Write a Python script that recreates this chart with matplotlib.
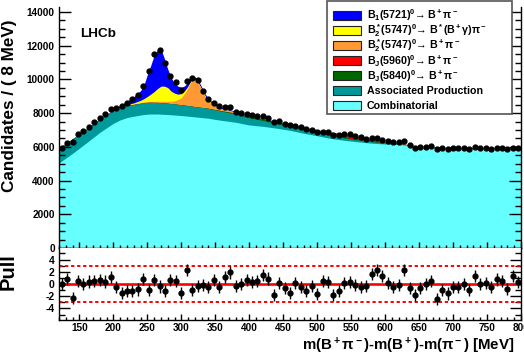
import numpy as np
import matplotlib
matplotlib.use('Agg')
import matplotlib.pyplot as plt
from matplotlib.patches import Rectangle
from matplotlib.ticker import MultipleLocator, FixedLocator

plt.rcParams['font.family'] = ['Liberation Sans', 'DejaVu Sans']
plt.rcParams['font.weight'] = 'bold'
plt.rcParams['mathtext.fontset'] = 'custom'
plt.rcParams['mathtext.rm'] = 'Liberation Sans:bold'
plt.rcParams['mathtext.it'] = 'Liberation Sans:bold'
plt.rcParams['mathtext.bf'] = 'Liberation Sans:bold'
plt.rcParams['mathtext.sf'] = 'Liberation Sans:bold'
plt.rcParams['axes.unicode_minus'] = False

# ---------------- data ----------------
mass_bins = np.arange(124, 797, 8)   # bin centres (8 MeV bins)
counts = [5950, 6250, 6300, 6740, 6940, 7190, 7450, 7690, 7930, 8220,
          8280, 8400, 8600, 8820, 9050, 9600, 10500, 11500, 11750, 11000,
          10200, 9850, 9370, 9900, 10100, 9980, 9300, 8820, 8600, 8400,
          8350, 8380, 8080, 8020, 7950, 7890, 7830, 7820, 7730, 7450,
          7510, 7370, 7270, 7250, 7160, 7050, 6990, 6880, 6900, 6880,
          6720, 6700, 6740, 6740, 6640, 6560, 6480, 6540, 6540, 6400,
          6320, 6290, 6260, 6360, 6110, 5960, 6010, 6020, 6050, 5850,
          5910, 5900, 5910, 5910, 5930, 5880, 6000, 5920, 5920, 5900,
          5950, 5940, 5880, 5960, 5930]
pulls = [0.0, 0.8, -2.3, 0.55, 0.0, 0.4, 0.5, 0.7, 0.4, 1.1,
         -0.55, -1.5, -1.1, -1.2, -0.9, 0.8, -1.0, 0.65, -0.4, -1.2,
         0.7, 0.55, -1.5, 2.35, -1.0, -0.3, -0.1, -0.45, 0.65, -0.45,
         1.1, 1.9, -0.3, 0.0, 0.65, 0.3, 0.45, 1.5, 0.9, -1.75,
         0.2, -0.65, -1.5, 0.1, -0.45, -1.1, -0.3, -1.65, 0.45, 0.3,
         -1.8, -1.1, 0.1, 0.3, -0.1, -0.55, -0.3, 1.65, 2.35, 1.35,
         0.1, -0.55, -0.1, 2.3, -0.7, -1.8, -0.7, 0.0, 0.55, -2.45,
         -1.0, -1.55, -0.55, -0.55, 0.0, -1.0, 1.25, 0.0, 0.1, -0.45,
         0.75, 0.55, -0.8, 1.25, 0.3]

fit_mass = [120, 140, 160, 180, 200, 210, 220, 230, 240, 245,
            250, 255, 260, 265, 270, 275, 280, 285, 290, 295,
            300, 305, 310, 315, 320, 325, 330, 335, 340, 350,
            360, 370, 380, 400, 420, 440, 460, 480, 500, 520,
            540, 560, 580, 600, 620, 640, 660, 680, 700, 750, 800]
combinatorial = [5050, 5620, 6230, 6860, 7400, 7600, 7740, 7820, 7890, 7920,
                 7940, 7950, 7950, 7950, 7940, 7930, 7920, 7905, 7890, 7875,
                 7860, 7840, 7820, 7800, 7780, 7760, 7740, 7720, 7700, 7630,
                 7570, 7515, 7460, 7300, 7220, 7110, 6980, 6810, 6660, 6500,
                 6390, 6300, 6220, 6170, 6140, 6060, 5990, 5955, 5940, 5915, 5900]
assoc_prod = [880, 860, 820, 780, 740, 725, 710, 700, 700, 700,
              700, 695, 690, 690, 685, 680, 670, 665, 660, 650,
              640, 635, 630, 620, 610, 605, 600, 595, 580, 560,
              540, 515, 490, 430, 350, 280, 240, 210, 180, 160,
              140, 110, 90, 70, 50, 30, 20, 15, 10, 5, 5]
bj5840 = [0, 0, 0, 0, 0, 0, 0, 0, 0, 0,
          0, 0, 0, 0, 0, 0, 0, 0, 0, 0,
          0, 0, 0, 0, 0, 0, 0, 0, 10, 20,
          30, 40, 50, 65, 80, 85, 85, 80, 70, 55,
          40, 30, 20, 10, 5, 0, 0, 0, 0, 0, 0]
bj5960 = [0, 0, 0, 0, 0, 0, 0, 0, 0, 0,
          0, 0, 0, 0, 0, 0, 0, 0, 0, 0,
          0, 0, 0, 0, 0, 0, 0, 0, 0, 0,
          0, 0, 0, 0, 0, 0, 10, 40, 90, 150,
          180, 150, 90, 40, 15, 5, 0, 0, 0, 0, 0]
b2_bpi = [0, 0, 0, 5, 10, 15, 20, 30, 40, 45,
          50, 55, 60, 70, 80, 95, 110, 140, 190, 280,
          420, 700, 1060, 1490, 1540, 1400, 1055, 700, 450, 215,
          125, 90, 60, 40, 20, 15, 10, 8, 6, 4,
          3, 2, 1, 0, 0, 0, 0, 0, 0, 0, 0]
b2_bstarpi = [0, 0, 0, 3, 8, 15, 30, 60, 130, 200,
              300, 430, 580, 750, 900, 900, 820, 600, 450, 320,
              240, 160, 110, 80, 60, 45, 35, 28, 22, 15,
              10, 7, 5, 3, 2, 0, 0, 0, 0, 0,
              0, 0, 0, 0, 0, 0, 0, 0, 0, 0, 0]
b1_bstarpi = [0, 0, 2, 10, 50, 110, 200, 370, 570, 800,
              1300, 1700, 2150, 2300, 2200, 1650, 1100, 800, 580, 480,
              370, 290, 230, 190, 160, 140, 120, 105, 95, 80,
              65, 55, 45, 35, 25, 20, 15, 12, 10, 8,
              6, 5, 4, 3, 2, 1, 0, 0, 0, 0, 0]

labels = [r'B$_1$(5721)$^0$→ B$^+$π$^-$',
          r'B$_2^*$(5747)$^0$→ B$^*$(B$^+$γ)π$^-$',
          r'B$_2^*$(5747)$^0$→ B$^+$π$^-$',
          r'B$_J$(5960)$^0$→ B$^+$π$^-$',
          r'B$_J$(5840)$^0$→ B$^+$π$^-$',
          'Associated Production',
          'Combinatorial']

# ---------------- figure ----------------
W, H = 524, 356
fig = plt.figure(figsize=(W / 100, H / 100), dpi=100)
L, R = 59, 521
ax = fig.add_axes([L / W, 1 - 248 / H, (R - L) / W, (248 - 7) / H])
ax2 = fig.add_axes([L / W, 1 - 320 / H, (R - L) / W, 72 / H])

comps = [combinatorial, assoc_prod, bj5840, bj5960, b2_bpi, b2_bstarpi, b1_bstarpi]
colors = ['#66FFFF', '#009999', '#006600', '#FF0000', '#FF9933', '#FFFF00', '#0000FF']
cum = np.cumsum(np.array(comps, dtype=float), axis=0)
for i in reversed(range(len(comps))):
    ax.fill_between(fit_mass, 0, cum[i], color=colors[i], lw=0, zorder=1)

counts_a = np.array(counts, dtype=float)
ax.errorbar(mass_bins, counts_a, yerr=np.sqrt(counts_a), fmt='o', color='black',
            ms=3.5, elinewidth=1.0, capsize=0, zorder=5)

ax.set_xlim(120, 800)
ax.set_ylim(0, 14300)
ax.yaxis.set_major_locator(FixedLocator(np.arange(0, 14001, 2000)))
ax.yaxis.set_minor_locator(MultipleLocator(500))
ax.xaxis.set_major_locator(MultipleLocator(50))
ax.xaxis.set_minor_locator(MultipleLocator(10))
ax.tick_params(axis='x', which='both', direction='in', bottom=True, top=False, labelbottom=False)
ax.tick_params(axis='x', which='major', length=4.0, width=1.0)
ax.tick_params(axis='x', which='minor', length=2.0, width=1.0)
ax.tick_params(axis='y', which='both', direction='in', left=True, right=True, labelsize=7.2, pad=3)
ax.tick_params(axis='y', which='major', length=8.6, width=1.0)
ax.tick_params(axis='y', which='minor', length=4.3, width=1.0)
ax.spines['top'].set_visible(False)
for s in ['left', 'right', 'bottom']:
    ax.spines[s].set_linewidth(1.0)
ax.set_ylabel('Candidates / ( 8 MeV)', fontsize=12.3, fontweight='bold')
ax.yaxis.set_label_coords((17.5 - L) / (R - L), (248 - 106) / 241)
ax.text((80 - L) / (R - L), (248 - 37) / 241, 'LHCb', transform=ax.transAxes,
        fontsize=9.7, fontweight='bold', va='baseline', ha='left')

# legend (drawn as a framed key)
leg_box = Rectangle((327 / W, 1 - 114 / H), (512 - 327) / W, (114 - 1.5) / H,
                    transform=fig.transFigure, facecolor='white', edgecolor='#555555',
                    lw=1.2, zorder=20)
fig.add_artist(leg_box)
key_colors = ['#0000FF', '#FFFF00', '#FF9933', '#FF0000', '#006600', '#009999', '#66FFFF']
for i, (lab, c) in enumerate(zip(labels, key_colors)):
    yc = 15.5 + 15.05 * i
    fig.add_artist(Rectangle((333 / W, 1 - (yc + 4.5) / H), 28 / W, 9 / H,
                             transform=fig.transFigure, facecolor=c, edgecolor='#222222',
                             lw=0.8, zorder=21))
    fig.text(367 / W, 1 - yc / H, lab, fontsize=7.7, fontweight='bold',
             va='center', ha='left', zorder=22)

# ---------------- pull panel ----------------
ax2.axhline(0, color='red', lw=1.9, zorder=2)
for lvl in (3, -3):
    ax2.axhline(lvl, color='red', lw=1.4, ls=(0, (1.7, 1.4)), zorder=2)
ax2.errorbar(mass_bins, pulls, yerr=np.ones(len(pulls)), fmt='o', color='black',
             ms=3.5, elinewidth=1.0, capsize=0, zorder=5)
ax2.set_xlim(120, 800)
ax2.set_ylim(-5.9, 5.9)
ax2.yaxis.set_major_locator(FixedLocator([-4, -2, 0, 2, 4]))
ax2.yaxis.set_minor_locator(MultipleLocator(1))
ax2.xaxis.set_major_locator(MultipleLocator(50))
ax2.xaxis.set_minor_locator(MultipleLocator(10))
ax2.tick_params(axis='x', which='both', direction='in', bottom=True, top=False,
                labelsize=7.2, pad=2)
ax2.tick_params(axis='x', which='major', length=4.0, width=1.0)
ax2.tick_params(axis='x', which='minor', length=2.0, width=1.0)
ax2.tick_params(axis='y', which='both', direction='in', left=True, right=True, labelsize=7.5, pad=3)
ax2.tick_params(axis='y', which='major', length=8, width=1.0)
ax2.tick_params(axis='y', which='minor', length=4, width=1.0)
ax2.spines['top'].set_visible(False)
for s in ['left', 'right', 'bottom']:
    ax2.spines[s].set_linewidth(1.0)
ax2.set_ylabel('Pull', fontsize=14.5, fontweight='bold')
ax2.yaxis.set_label_coords((17.5 - L) / (R - L), (320 - 271.5) / 72)
ax2.set_xlabel(r'm(B$^+$π$^-$)-m(B$^+$)-m(π$^-$) [MeV]', fontsize=10.8, fontweight='bold',
               loc='right')
ax2.xaxis.set_label_coords((514 - L) / (R - L), (320 - 336) / 72)

fig.savefig('out.png', dpi=100)
